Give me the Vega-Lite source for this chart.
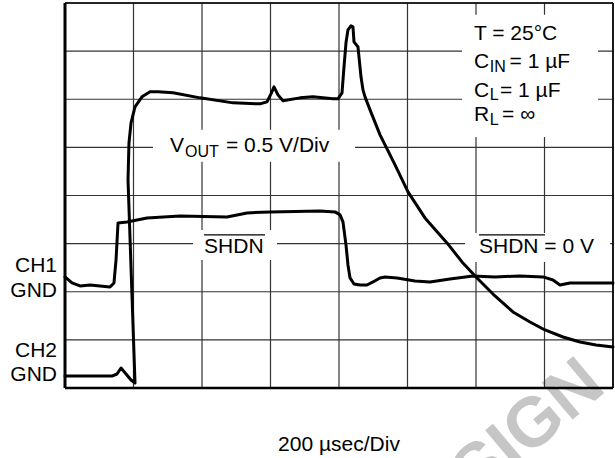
{
  "$schema": "https://vega.github.io/schema/vega-lite/v6.json",
  "width": 548,
  "height": 385,
  "autosize": {"type": "none"},
  "padding": {"left": 65, "top": 3, "right": 2, "bottom": 70},
  "background": "white",
  "config": {"view": {"stroke": null}, "font": "Liberation Sans"},
  "datasets": {
    "grid": [{"v": 0}, {"v": 1}, {"v": 2}, {"v": 3}, {"v": 4}, {"v": 5}, {"v": 6}, {"v": 7}, {"v": 8}],
    "boxes": [
      {"x1": 1.285, "x2": 4.234, "y1": 5.364, "y2": 4.699},
      {"x1": 5.796, "x2": 7.781, "y1": 7.755, "y2": 5.218},
      {"x1": 1.869, "x2": 3.095, "y1": 3.285, "y2": 2.661},
      {"x1": 5.84, "x2": 7.96, "y1": 3.222, "y2": 2.62}
    ],
    "traces": [
      {"trace": "VOUT", "i": 0, "x": 0, "y": 0.249},
      {"trace": "VOUT", "i": 1, "x": 0.686, "y": 0.249},
      {"trace": "VOUT", "i": 2, "x": 0.759, "y": 0.291},
      {"trace": "VOUT", "i": 3, "x": 0.818, "y": 0.416},
      {"trace": "VOUT", "i": 4, "x": 0.891, "y": 0.291},
      {"trace": "VOUT", "i": 5, "x": 0.964, "y": 0.166},
      {"trace": "VOUT", "i": 6, "x": 1.022, "y": 0.104},
      {"trace": "VOUT", "i": 7, "x": 0.92, "y": 4.324},
      {"trace": "VOUT", "i": 8, "x": 0.934, "y": 5.094},
      {"trace": "VOUT", "i": 9, "x": 0.964, "y": 5.509},
      {"trace": "VOUT", "i": 10, "x": 1.022, "y": 5.842},
      {"trace": "VOUT", "i": 11, "x": 1.124, "y": 6.05},
      {"trace": "VOUT", "i": 12, "x": 1.241, "y": 6.154},
      {"trace": "VOUT", "i": 13, "x": 1.358, "y": 6.154},
      {"trace": "VOUT", "i": 14, "x": 1.577, "y": 6.133},
      {"trace": "VOUT", "i": 15, "x": 1.971, "y": 6.029},
      {"trace": "VOUT", "i": 16, "x": 2.453, "y": 5.925},
      {"trace": "VOUT", "i": 17, "x": 2.847, "y": 5.904},
      {"trace": "VOUT", "i": 18, "x": 2.949, "y": 5.946},
      {"trace": "VOUT", "i": 19, "x": 3.007, "y": 6.112},
      {"trace": "VOUT", "i": 20, "x": 3.051, "y": 6.258},
      {"trace": "VOUT", "i": 21, "x": 3.109, "y": 6.091},
      {"trace": "VOUT", "i": 22, "x": 3.182, "y": 5.967},
      {"trace": "VOUT", "i": 23, "x": 3.431, "y": 6.029},
      {"trace": "VOUT", "i": 24, "x": 3.62, "y": 6.05},
      {"trace": "VOUT", "i": 25, "x": 3.912, "y": 6.008},
      {"trace": "VOUT", "i": 26, "x": 3.985, "y": 6.008},
      {"trace": "VOUT", "i": 27, "x": 4.044, "y": 6.133},
      {"trace": "VOUT", "i": 28, "x": 4.073, "y": 6.674},
      {"trace": "VOUT", "i": 29, "x": 4.102, "y": 7.173},
      {"trace": "VOUT", "i": 30, "x": 4.131, "y": 7.443},
      {"trace": "VOUT", "i": 31, "x": 4.175, "y": 7.526},
      {"trace": "VOUT", "i": 32, "x": 4.204, "y": 7.505},
      {"trace": "VOUT", "i": 33, "x": 4.219, "y": 7.193},
      {"trace": "VOUT", "i": 34, "x": 4.277, "y": 7.089},
      {"trace": "VOUT", "i": 35, "x": 4.321, "y": 6.466},
      {"trace": "VOUT", "i": 36, "x": 4.35, "y": 6.195},
      {"trace": "VOUT", "i": 37, "x": 4.38, "y": 6.05},
      {"trace": "VOUT", "i": 38, "x": 4.453, "y": 5.78},
      {"trace": "VOUT", "i": 39, "x": 4.599, "y": 5.26},
      {"trace": "VOUT", "i": 40, "x": 4.818, "y": 4.636},
      {"trace": "VOUT", "i": 41, "x": 5.007, "y": 4.075},
      {"trace": "VOUT", "i": 42, "x": 5.255, "y": 3.534},
      {"trace": "VOUT", "i": 43, "x": 5.577, "y": 3.015},
      {"trace": "VOUT", "i": 44, "x": 5.796, "y": 2.62},
      {"trace": "VOUT", "i": 45, "x": 6.015, "y": 2.287},
      {"trace": "VOUT", "i": 46, "x": 6.277, "y": 1.913},
      {"trace": "VOUT", "i": 47, "x": 6.54, "y": 1.58},
      {"trace": "VOUT", "i": 48, "x": 6.788, "y": 1.372},
      {"trace": "VOUT", "i": 49, "x": 7.007, "y": 1.206},
      {"trace": "VOUT", "i": 50, "x": 7.27, "y": 1.06},
      {"trace": "VOUT", "i": 51, "x": 7.518, "y": 0.956},
      {"trace": "VOUT", "i": 52, "x": 7.752, "y": 0.894},
      {"trace": "VOUT", "i": 53, "x": 8.0, "y": 0.852},
      {"trace": "SHDN", "i": 0, "x": 0, "y": 2.308},
      {"trace": "SHDN", "i": 1, "x": 0.102, "y": 2.183},
      {"trace": "SHDN", "i": 2, "x": 0.219, "y": 2.121},
      {"trace": "SHDN", "i": 3, "x": 0.365, "y": 2.141},
      {"trace": "SHDN", "i": 4, "x": 0.511, "y": 2.121},
      {"trace": "SHDN", "i": 5, "x": 0.657, "y": 2.1},
      {"trace": "SHDN", "i": 6, "x": 0.715, "y": 2.183},
      {"trace": "SHDN", "i": 7, "x": 0.745, "y": 2.661},
      {"trace": "SHDN", "i": 8, "x": 0.774, "y": 3.43},
      {"trace": "SHDN", "i": 9, "x": 0.905, "y": 3.451},
      {"trace": "SHDN", "i": 10, "x": 1.197, "y": 3.534},
      {"trace": "SHDN", "i": 11, "x": 1.679, "y": 3.576},
      {"trace": "SHDN", "i": 12, "x": 2.365, "y": 3.555},
      {"trace": "SHDN", "i": 13, "x": 2.657, "y": 3.638},
      {"trace": "SHDN", "i": 14, "x": 2.993, "y": 3.659},
      {"trace": "SHDN", "i": 15, "x": 3.723, "y": 3.68},
      {"trace": "SHDN", "i": 16, "x": 3.942, "y": 3.659},
      {"trace": "SHDN", "i": 17, "x": 4.015, "y": 3.597},
      {"trace": "SHDN", "i": 18, "x": 4.058, "y": 3.451},
      {"trace": "SHDN", "i": 19, "x": 4.102, "y": 2.973},
      {"trace": "SHDN", "i": 20, "x": 4.131, "y": 2.557},
      {"trace": "SHDN", "i": 21, "x": 4.161, "y": 2.287},
      {"trace": "SHDN", "i": 22, "x": 4.219, "y": 2.162},
      {"trace": "SHDN", "i": 23, "x": 4.307, "y": 2.141},
      {"trace": "SHDN", "i": 24, "x": 4.409, "y": 2.141},
      {"trace": "SHDN", "i": 25, "x": 4.496, "y": 2.204},
      {"trace": "SHDN", "i": 26, "x": 4.599, "y": 2.287},
      {"trace": "SHDN", "i": 27, "x": 4.672, "y": 2.308},
      {"trace": "SHDN", "i": 28, "x": 4.847, "y": 2.287},
      {"trace": "SHDN", "i": 29, "x": 5.109, "y": 2.225},
      {"trace": "SHDN", "i": 30, "x": 5.328, "y": 2.204},
      {"trace": "SHDN", "i": 31, "x": 5.62, "y": 2.266},
      {"trace": "SHDN", "i": 32, "x": 5.956, "y": 2.328},
      {"trace": "SHDN", "i": 33, "x": 6.277, "y": 2.308},
      {"trace": "SHDN", "i": 34, "x": 6.642, "y": 2.328},
      {"trace": "SHDN", "i": 35, "x": 6.978, "y": 2.308},
      {"trace": "SHDN", "i": 36, "x": 7.124, "y": 2.245},
      {"trace": "SHDN", "i": 37, "x": 7.226, "y": 2.141},
      {"trace": "SHDN", "i": 38, "x": 7.372, "y": 2.183},
      {"trace": "SHDN", "i": 39, "x": 7.664, "y": 2.183},
      {"trace": "SHDN", "i": 40, "x": 8.0, "y": 2.183}
    ],
    "labels": [
      {"text": "V", "x": 1.533, "y": 4.906},
      {"text": "= 0.5 V/Div", "x": 2.35, "y": 4.906},
      {"text": "T = 25°C", "x": 5.97, "y": 7.235},
      {"text": "C", "x": 5.97, "y": 6.653},
      {"text": "= 1 µF", "x": 6.49, "y": 6.653},
      {"text": "C", "x": 5.97, "y": 6.05},
      {"text": "= 1 µF", "x": 6.35, "y": 6.05},
      {"text": "R", "x": 5.97, "y": 5.551},
      {"text": "= ∞", "x": 6.38, "y": 5.551},
      {"text": "SHDN", "x": 2.03, "y": 2.807},
      {"text": "SHDN = 0 V", "x": 6.044, "y": 2.807}
    ],
    "subs": [
      {"text": "OUT", "x": 1.752, "y": 4.802},
      {"text": "IN", "x": 6.2, "y": 6.57},
      {"text": "L", "x": 6.2, "y": 5.988},
      {"text": "L", "x": 6.2, "y": 5.468}
    ],
    "chlabels": [
      {"text": "CH1", "x": -0.117, "y": 2.412},
      {"text": "GND", "x": -0.117, "y": 1.892},
      {"text": "CH2", "x": -0.117, "y": 0.644},
      {"text": "GND", "x": -0.117, "y": 0.146}
    ],
    "xtitle": [{"text": "200 µsec/Div", "x": 4.0, "y": -1.304}],
    "overlines": [
      {"x": 2.03, "x2": 2.92, "y": 3.181},
      {"x": 6.044, "x2": 7.007, "y": 3.181}
    ],
    "watermark": [{"text": "DESIGN", "x": 7.923, "y": -0.042}]
  },
  "layer": [
    {
      "data": {"name": "watermark"},
      "mark": {"type": "text", "font": "Liberation Sans", "fontWeight": "bold", "fontSize": 70, "angle": -40, "align": "right", "baseline": "alphabetic", "color": "#c6c6c6"},
      "encoding": {
        "x": {"field": "x", "type": "quantitative", "scale": {"domain": [0, 8], "nice": false, "zero": false}, "axis": null},
        "y": {"field": "y", "type": "quantitative", "scale": {"domain": [0, 8], "nice": false, "zero": false}, "axis": null},
        "text": {"field": "text"}
      }
    },
    {
      "data": {"name": "grid"},
      "mark": {"type": "rule", "color": "#333333", "strokeWidth": 1.2},
      "encoding": {
        "x": {"field": "v", "type": "quantitative", "axis": null}
      }
    },
    {
      "data": {"name": "grid"},
      "mark": {"type": "rule", "color": "#333333", "strokeWidth": 1.2},
      "encoding": {
        "y": {"field": "v", "type": "quantitative", "axis": null}
      }
    },
    {
      "data": {"name": "boxes"},
      "mark": {"type": "rect", "color": "white"},
      "encoding": {
        "x": {"field": "x1", "type": "quantitative", "axis": null},
        "x2": {"field": "x2"},
        "y": {"field": "y1", "type": "quantitative", "axis": null},
        "y2": {"field": "y2"}
      }
    },
    {
      "data": {"values": [{"v": 0}]},
      "mark": {"type": "rule", "color": "black", "strokeWidth": 3},
      "encoding": {"x": {"field": "v", "type": "quantitative", "axis": null}}
    },
    {
      "data": {"values": [{"v": 0}]},
      "mark": {"type": "rule", "color": "black", "strokeWidth": 2.5},
      "encoding": {"y": {"field": "v", "type": "quantitative", "axis": null}}
    },
    {
      "data": {"values": [{"v": 8}]},
      "mark": {"type": "rule", "color": "black", "strokeWidth": 1.6},
      "encoding": {"x": {"field": "v", "type": "quantitative", "axis": null}}
    },
    {
      "data": {"values": [{"v": 8}]},
      "mark": {"type": "rule", "color": "black", "strokeWidth": 1.6},
      "encoding": {"y": {"field": "v", "type": "quantitative", "axis": null}}
    },
    {
      "data": {"name": "traces"},
      "mark": {"type": "line", "color": "black", "strokeWidth": 3, "strokeJoin": "round", "strokeCap": "round"},
      "encoding": {
        "x": {"field": "x", "type": "quantitative", "axis": null},
        "y": {"field": "y", "type": "quantitative", "axis": null},
        "detail": {"field": "trace"},
        "order": {"field": "i", "type": "quantitative"}
      }
    },
    {
      "data": {"name": "overlines"},
      "mark": {"type": "rule", "color": "black", "strokeWidth": 1.3},
      "encoding": {
        "x": {"field": "x", "type": "quantitative", "axis": null},
        "x2": {"field": "x2"},
        "y": {"field": "y", "type": "quantitative", "axis": null}
      }
    },
    {
      "data": {"name": "labels"},
      "mark": {"type": "text", "font": "Liberation Sans", "fontSize": 21, "align": "left", "baseline": "alphabetic", "color": "black"},
      "encoding": {
        "x": {"field": "x", "type": "quantitative", "axis": null},
        "y": {"field": "y", "type": "quantitative", "axis": null},
        "text": {"field": "text"}
      }
    },
    {
      "data": {"name": "subs"},
      "mark": {"type": "text", "font": "Liberation Sans", "fontSize": 16, "align": "left", "baseline": "alphabetic", "color": "black"},
      "encoding": {
        "x": {"field": "x", "type": "quantitative", "axis": null},
        "y": {"field": "y", "type": "quantitative", "axis": null},
        "text": {"field": "text"}
      }
    },
    {
      "data": {"name": "chlabels"},
      "mark": {"type": "text", "font": "Liberation Sans", "fontSize": 21, "align": "right", "baseline": "alphabetic", "color": "black"},
      "encoding": {
        "x": {"field": "x", "type": "quantitative", "axis": null},
        "y": {"field": "y", "type": "quantitative", "axis": null},
        "text": {"field": "text"}
      }
    },
    {
      "data": {"name": "xtitle"},
      "mark": {"type": "text", "font": "Liberation Sans", "fontSize": 21, "align": "center", "baseline": "alphabetic", "color": "black"},
      "encoding": {
        "x": {"field": "x", "type": "quantitative", "axis": null},
        "y": {"field": "y", "type": "quantitative", "axis": null},
        "text": {"field": "text"}
      }
    }
  ]
}
